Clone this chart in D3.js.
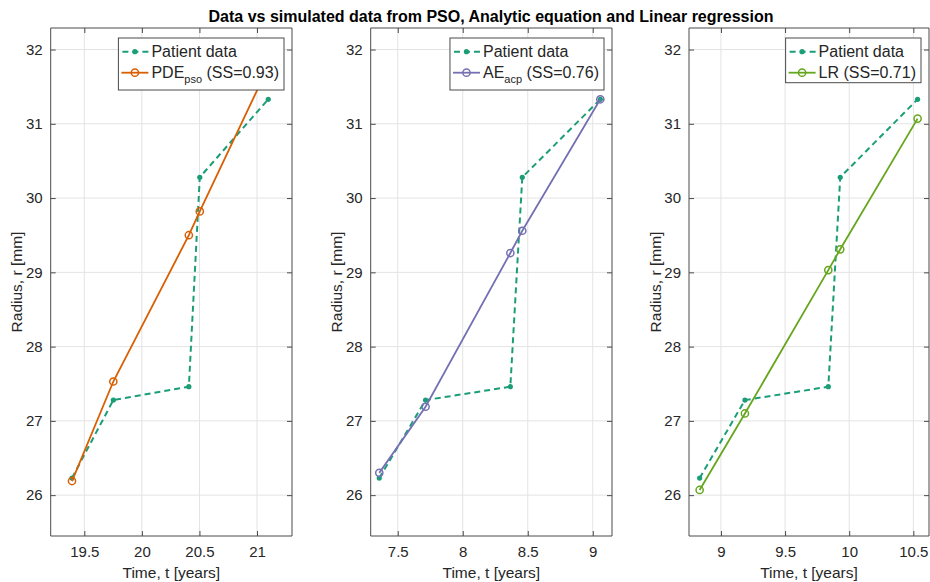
<!DOCTYPE html>
<html>
<head>
<meta charset="utf-8">
<script src="https://cdn.jsdelivr.net/npm/d3@7/dist/d3.min.js"></script>
<style>
  html, body { margin: 0; padding: 0; background: #fff; }
  svg { display: block; font-family: "Liberation Sans", Arial, Helvetica, sans-serif; }
</style>
</head>
<body>
<svg id="chart" width="930" height="582"></svg>
<script>
// ---------- DATA ----------
const titleText = "Data vs simulated data from PSO, Analytic equation and Linear regression";
const xLabelText = "Time, t [years]";
const yLabelText = "Radius, r [mm]";

const radiusPatient = [26.23, 27.28, 27.46, 30.28, 31.33];

const timeP1 = [19.393, 19.752, 20.408, 20.503, 21.098];
const radiusPDE = [26.19, 27.53, 29.50, 29.82, 31.77];

const timeP2 = [7.358, 7.714, 8.366, 8.458, 9.058];
const radiusAE = [26.30, 27.19, 29.26, 29.56, 31.33];

const timeP3 = [8.834, 9.187, 9.837, 9.930, 10.533];
const radiusLR = [26.07, 27.10, 29.03, 29.31, 31.07];

const xTicksP1 = [19.5, 20, 20.5, 21];
const xTicksP2 = [7.5, 8, 8.5, 9];
const xTicksP3 = [9, 9.5, 10, 10.5];
const yTicks = [26, 27, 28, 29, 30, 31, 32];

const xDomainP1 = [19.208, 21.304];
const xDomainP2 = [7.292, 9.148];
const xDomainP3 = [8.751, 10.622];
const yDomain = [25.45, 32.29];

const legendPatient = "Patient data";
const legendModels = [
  { main: "PDE", sub: "pso", rest: " (SS=0.93)" },
  { main: "AE", sub: "acp", rest: " (SS=0.76)" },
  { main: "LR (SS=0.71)", sub: null, rest: "" }
];

// ---------- STYLE / LAYOUT ----------
const colPatient = "#1b9e77";
const modelColors = ["#d95f02", "#7570b3", "#66a61e"];
const axisColor = "#4a4a4a";
const textColor = "#262626";
const gridColor = "#e3e3e3";

const panels = [
  { left: 50.7, right: 292, time: timeP1, model: radiusPDE, xTicks: xTicksP1, xDomain: xDomainP1 },
  { left: 370.7, right: 612, time: timeP2, model: radiusAE, xTicks: xTicksP2, xDomain: xDomainP2 },
  { left: 689, right: 929, time: timeP3, model: radiusLR, xTicks: xTicksP3, xDomain: xDomainP3 }
];
const axTop = 28, axBottom = 536;

const svg = d3.select("#chart");

svg.append("text")
  .attr("x", 491).attr("y", 21.5)
  .attr("text-anchor", "middle")
  .attr("font-size", 16).attr("font-weight", "bold")
  .attr("fill", "#000")
  .text(titleText);

const fmt = d => String(d);

panels.forEach((p, i) => {
  const x = d3.scaleLinear().domain(p.xDomain).range([p.left, p.right]);
  const y = d3.scaleLinear().domain(yDomain).range([axBottom, axTop]);
  const g = svg.append("g");
  const w = p.right - p.left, h = axBottom - axTop;

  const clipId = "clip" + i;
  svg.append("defs").append("clipPath").attr("id", clipId)
    .append("rect").attr("x", p.left).attr("y", axTop).attr("width", w).attr("height", h);

  // grid
  g.append("g").selectAll("line").data(p.xTicks).join("line")
    .attr("x1", d => x(d)).attr("x2", d => x(d)).attr("y1", axTop).attr("y2", axBottom)
    .attr("stroke", gridColor).attr("stroke-width", 1);
  g.append("g").selectAll("line").data(yTicks).join("line")
    .attr("y1", d => y(d)).attr("y2", d => y(d)).attr("x1", p.left).attr("x2", p.right)
    .attr("stroke", gridColor).attr("stroke-width", 1);

  // axes using d3 axis (inward ticks)
  const xAxisB = d3.axisBottom(x).tickValues(p.xTicks).tickSize(-5).tickPadding(10).tickFormat(fmt);
  const xAxisT = d3.axisTop(x).tickValues(p.xTicks).tickSize(-5).tickFormat("");
  const yAxisL = d3.axisLeft(y).tickValues(yTicks).tickSize(-5).tickPadding(8).tickFormat(fmt);
  const yAxisR = d3.axisRight(y).tickValues(yTicks).tickSize(-5).tickFormat("");

  const styleAxis = sel => {
    sel.selectAll("path").attr("stroke", axisColor).attr("stroke-width", 1);
    sel.selectAll("line").attr("stroke", axisColor).attr("stroke-width", 1);
    sel.selectAll("text").attr("fill", textColor).attr("font-size", 15)
      .attr("font-family", "Liberation Sans, Arial, sans-serif");
  };
  const gxb = g.append("g").attr("transform", `translate(0,${axBottom})`).call(xAxisB);
  gxb.call(styleAxis);
  gxb.select(".domain").attr("d", `M${p.left},0H${p.right}`);
  const gxt = g.append("g").attr("transform", `translate(0,${axTop})`).call(xAxisT);
  gxt.call(styleAxis);
  gxt.select(".domain").attr("d", `M${p.left},0H${p.right}`);
  const gyl = g.append("g").attr("transform", `translate(${p.left},0)`).call(yAxisL);
  gyl.call(styleAxis);
  gyl.select(".domain").attr("d", `M0,${axTop}V${axBottom}`);
  const gyr = g.append("g").attr("transform", `translate(${p.right},0)`).call(yAxisR);
  gyr.call(styleAxis);
  gyr.select(".domain").attr("d", `M0,${axTop}V${axBottom}`);

  // axis labels
  svg.append("text")
    .attr("x", (p.left + p.right) / 2).attr("y", 578)
    .attr("text-anchor", "middle").attr("font-size", 15.5).attr("fill", textColor)
    .text(xLabelText);
  svg.append("text")
    .attr("transform", `translate(${p.left - 28.5},${(axTop + axBottom) / 2}) rotate(-90)`)
    .attr("text-anchor", "middle").attr("font-size", 15.5).attr("fill", textColor)
    .text(yLabelText);

  // data
  const plot = g.append("g").attr("clip-path", `url(#${clipId})`);
  const line = d3.line().x(d => x(d[0])).y(d => y(d[1]));
  const patientPts = p.time.map((t, k) => [t, radiusPatient[k]]);
  const modelPts = p.time.map((t, k) => [t, p.model[k]]);

  plot.append("path").datum(patientPts).attr("d", line)
    .attr("fill", "none").attr("stroke", colPatient).attr("stroke-width", 2)
    .attr("stroke-dasharray", "6,4");
  plot.selectAll(".pd").data(patientPts).join("circle")
    .attr("cx", d => x(d[0])).attr("cy", d => y(d[1])).attr("r", 2.6)
    .attr("fill", colPatient);

  const mc = modelColors[i];
  plot.append("path").datum(modelPts).attr("d", line)
    .attr("fill", "none").attr("stroke", mc).attr("stroke-width", 1.8);
  plot.selectAll(".md").data(modelPts).join("circle")
    .attr("cx", d => x(d[0])).attr("cy", d => y(d[1])).attr("r", 3.6)
    .attr("fill", "none").attr("stroke", mc).attr("stroke-width", 1.5);

  // legend
  const lg = svg.append("g");
  const box = lg.append("rect").attr("fill", "#fff").attr("stroke", axisColor).attr("stroke-width", 1);
  const row1 = 51.7, row2 = 72.7;
  const t1 = lg.append("text").attr("y", row1 + 5.5).attr("font-size", 16).attr("fill", textColor).text(legendPatient);
  const lm = legendModels[i];
  const t2 = lg.append("text").attr("y", row2 + 5.5).attr("font-size", 16).attr("fill", textColor);
  t2.append("tspan").text(lm.main);
  if (lm.sub) {
    t2.append("tspan").attr("font-size", 11).attr("dy", 5).text(lm.sub);
    t2.append("tspan").attr("dy", -5).text(lm.rest);
  }
  const tw = Math.max(t1.node().getComputedTextLength(), t2.node().getComputedTextLength());
  const boxW = 33 + tw + 5;
  const boxR = p.right - 8;
  const boxL = boxR - boxW;
  const boxB = lm.sub ? 90 : 82.7;
  box.attr("x", boxL).attr("y", 38).attr("width", boxW).attr("height", boxB - 38);
  t1.attr("x", boxL + 33);
  t2.attr("x", boxL + 33);
  lg.append("line").attr("x1", boxL + 3).attr("x2", boxL + 30).attr("y1", row1).attr("y2", row1)
    .attr("stroke", colPatient).attr("stroke-width", 2).attr("stroke-dasharray", "6,4").attr("stroke-dashoffset", -1);
  lg.append("circle").attr("cx", boxL + 16.5).attr("cy", row1).attr("r", 2.6).attr("fill", colPatient);
  lg.append("line").attr("x1", boxL + 3).attr("x2", boxL + 30).attr("y1", row2).attr("y2", row2)
    .attr("stroke", mc).attr("stroke-width", 1.8);
  lg.append("circle").attr("cx", boxL + 16.5).attr("cy", row2).attr("r", 3.6)
    .attr("fill", "none").attr("stroke", mc).attr("stroke-width", 1.5);
});
</script>
</body>
</html>
